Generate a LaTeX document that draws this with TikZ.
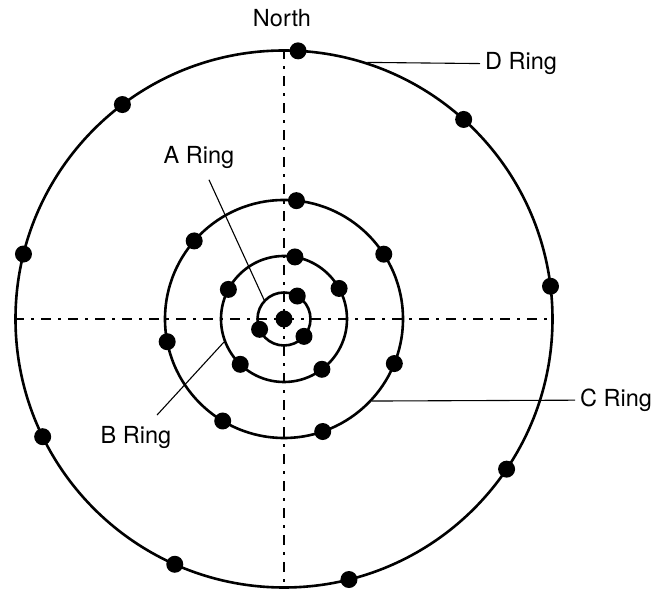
\documentclass[tikz,border=0pt]{standalone}
\usepackage{fontspec}
\setmainfont{TeX Gyre Heros}
\usepackage{xcolor}
\usepackage{tikz}
\usetikzlibrary{positioning}

\begin{document}
\begin{tikzpicture}[
            x=1pt, y=1pt,
            ring/.style={
                    draw,
                    circle,
                    line width=2.6pt,
                    inner sep=0pt
                },
            ringdot/.style={
                    fill,
                    circle,
                    inner sep=0pt,
                    minimum size=17pt
                },
            centreline/.style={
                    line width=2.4pt,
                    dash pattern=on 10pt off 7pt on 3pt off 7pt
                },
            leader/.style={
                    line width=1.1pt
                },
            ringlabel/.style={
                    inner sep=5pt,
                    font=\fontsize{23.5}{27}\selectfont
                }
        ]

        \useasboundingbox[fill=white] (-284,-274) rectangle (375,319);


        \node[ring, minimum size=537pt] (dring) at (0,0) {};
        \node[ring, minimum size=238pt] (cring) at (0,0) {};
        \node[ring, minimum size=126pt] (bring) at (0,0) {};
        \node[ring, minimum size=53pt] (aring) at (0,0) {};


        \draw[centreline](dring.north)--(dring.south);
        \draw[centreline](dring.west)--(dring.east);


        \node[ringdot] (hub) at (0,0) {};


        \node[ringdot] (a1) at (60:26.5) {};
        \node[ringdot] (a2) at (203:26.5) {};
        \node[ringdot] (a3) at (319:26.5) {};


        \node[ringdot] (b1) at (80:63) {};
        \node[ringdot] (b2) at (29:63) {};
        \node[ringdot] (b3) at (152:63) {};
        \node[ringdot] (b4) at (226:63) {};
        \node[ringdot] (b5) at (307:63) {};


        \node[ringdot] (c1) at (84:119) {};
        \node[ringdot] (c2) at (33:119) {};
        \node[ringdot] (c3) at (139:119) {};
        \node[ringdot] (c4) at (191:119) {};
        \node[ringdot] (c5) at (239:119) {};
        \node[ringdot] (c6) at (289:119) {};
        \node[ringdot] (c7) at (338:119) {};


        \node[ringdot] (d1) at (87:268.5) {};
        \node[ringdot] (d2) at (48:268.5) {};
        \node[ringdot] (d3) at (7:268.5) {};
        \node[ringdot] (d4) at (127:268.5) {};
        \node[ringdot] (d5) at (166:268.5) {};
        \node[ringdot] (d6) at (206:268.5) {};
        \node[ringdot] (d7) at (246:268.5) {};
        \node[ringdot] (d8) at (284:268.5) {};
        \node[ringdot] (d9) at (326:268.5) {};


        \node[ringlabel] (north) at (-2,301) {North};
        \node[ringlabel, anchor=west] (dlabel) at (196,255) {D Ring};
        \node[ringlabel, anchor=west] (clabel) at (291,-81) {C Ring};
        \node[ringlabel] (alabel) at (-85,161) {A Ring};
        \node[ringlabel] (blabel) at (-148,-119) {B Ring};


        \draw[leader](dring.72)--(dlabel);
        \draw[leader](cring.-43)--(clabel);
        \draw[leader, shorten >=6pt](aring.136)--(alabel);
        \draw[leader, shorten >=9pt](bring.201)--(blabel);


    \end{tikzpicture}
\end{document}
